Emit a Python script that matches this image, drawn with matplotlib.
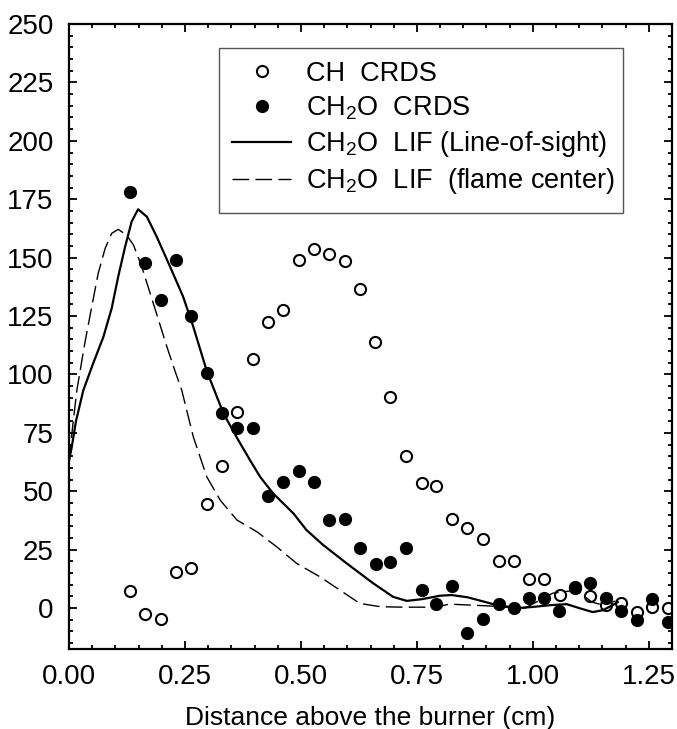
import matplotlib
matplotlib.use("Agg")
import matplotlib.pyplot as plt
from matplotlib.patches import Rectangle
from matplotlib.ticker import MultipleLocator

plt.rcParams["font.family"] = ["Liberation Sans", "DejaVu Sans"]
plt.rcParams["mathtext.default"] = "regular"

# CH CRDS (open circles)
ch_x = [0.131, 0.164, 0.198, 0.230, 0.263, 0.297, 0.330, 0.363, 0.396, 0.428,
        0.462, 0.496, 0.528, 0.561, 0.595, 0.627, 0.659, 0.693, 0.727, 0.760,
        0.792, 0.826, 0.858, 0.892, 0.926, 0.959, 0.991, 1.024, 1.058, 1.091,
        1.124, 1.157, 1.191, 1.224, 1.257, 1.291]
ch_y = [7.3, -2.6, -4.7, 15.4, 17.0, 44.5, 61.0, 84.0, 106.5, 122.5,
        127.5, 149.0, 153.5, 151.5, 148.5, 136.5, 113.8, 90.3, 65.0, 53.5,
        52.2, 38.0, 34.2, 29.5, 20.1, 20.1, 12.4, 12.4, 5.6, 9.0,
        5.2, 1.3, 2.3, -1.6, 0.3, 0.0]

# CH2O CRDS (filled circles)
ch2o_x = [0.131, 0.164, 0.198, 0.230, 0.263, 0.297, 0.330, 0.363, 0.396, 0.428,
          0.462, 0.496, 0.528, 0.561, 0.594, 0.627, 0.661, 0.693, 0.727, 0.760,
          0.792, 0.826, 0.859, 0.892, 0.926, 0.959, 0.991, 1.024, 1.057, 1.091,
          1.124, 1.157, 1.191, 1.224, 1.257, 1.291]
ch2o_y = [178.0, 147.6, 131.8, 149.0, 125.0, 100.5, 83.5, 77.0, 77.0, 48.0,
          54.0, 58.6, 54.0, 37.6, 38.0, 25.7, 18.8, 19.7, 25.7, 7.7,
          1.7, 9.4, -10.6, -4.8, 1.7, 0.0, 4.4, 4.4, -1.2, 8.4,
          10.6, 4.4, -1.2, -5.2, 3.8, -6.0]

# CH2O LIF, line-of-sight (solid)
los_x = [0.0, 0.006, 0.015, 0.031, 0.052, 0.074, 0.092, 0.106, 0.121, 0.135,
         0.149, 0.168, 0.189, 0.218, 0.246, 0.268, 0.297, 0.333, 0.365, 0.390,
         0.412, 0.440, 0.484, 0.512, 0.548, 0.599, 0.656, 0.699, 0.728, 0.760,
         0.800, 0.825, 0.860, 0.922, 0.966, 1.000, 1.040, 1.073, 1.100, 1.129,
         1.151, 1.172, 1.183]
los_y = [63.0, 69.0, 80.0, 93.3, 104.7, 116.0, 128.3, 141.8, 154.7, 165.4,
         170.7, 167.5, 159.0, 146.1, 133.3, 120.4, 101.5, 83.3, 71.9, 63.4,
         56.2, 49.1, 40.5, 33.4, 27.0, 19.1, 10.6, 4.8, 3.1, 3.8,
         5.3, 5.6, 4.6, 1.3, 0.0, 0.5, 1.3, 1.7, 0.0, -1.7,
         -0.9, 1.3, 2.6]

# CH2O LIF, flame center (dashed)
fc_x = [0.0, 0.008, 0.017, 0.034, 0.049, 0.063, 0.078, 0.092, 0.106, 0.124,
        0.139, 0.157, 0.175, 0.193, 0.211, 0.229, 0.243, 0.268, 0.297, 0.326,
        0.362, 0.405, 0.448, 0.491, 0.541, 0.584, 0.627, 0.671, 0.720, 0.790,
        0.820, 0.920, 0.960, 0.983, 1.043, 1.095, 1.127, 1.151, 1.177]
fc_y = [63.0, 78.0, 93.3, 113.3, 129.0, 143.3, 154.0, 160.4, 162.1, 159.7,
        155.4, 146.1, 134.7, 123.3, 111.9, 101.2, 93.3, 73.3, 56.2, 46.2,
        37.7, 32.7, 26.2, 19.1, 13.4, 7.7, 2.0, 0.6, 0.4, 0.4,
        1.7, 0.8, 0.0, 0.0, 6.4, 7.7, 2.6, 1.3, 3.0]

labels = ["CH  CRDS", "CH$_2$O  CRDS", "CH$_2$O  LIF (Line-of-sight)",
          "CH$_2$O  LIF  (flame center)"]

fig = plt.figure(figsize=(6.77, 7.29), dpi=100)
ax = fig.add_axes([69 / 677, 1 - 649 / 729, 603 / 677, 625 / 729])

h1, = ax.plot(ch_x, ch_y, "o", ms=8, mfc="white", mec="black", mew=1.5, ls="none")
h2, = ax.plot(ch2o_x, ch2o_y, "o", ms=8.5, mfc="black", mec="black", ls="none")
h3, = ax.plot(los_x, los_y, "-", color="black", lw=1.6)
h4, = ax.plot(fc_x, fc_y, color="black", lw=1.0, dashes=(12, 4.5))

ax.set_xlim(0, 1.3)
ax.set_ylim(-17.5, 250)
ax.xaxis.set_major_locator(MultipleLocator(0.25))
ax.xaxis.set_minor_locator(MultipleLocator(0.05))
ax.yaxis.set_major_locator(MultipleLocator(25))
ax.yaxis.set_minor_locator(MultipleLocator(5))
ax.xaxis.set_major_formatter(plt.FormatStrFormatter("%.2f"))
ax.tick_params(which="both", direction="in", top=True, right=True, width=1.3,
               labelsize=20)
ax.tick_params(which="major", length=5.5)
ax.tick_params(which="minor", length=3)
ax.tick_params(axis="x", which="major", pad=11)
ax.tick_params(axis="y", which="major", pad=11)
for sp in ax.spines.values():
    sp.set_linewidth(1.6)

ax.set_xlabel("Distance above the burner (cm)", fontsize=19, labelpad=11)

leg = ax.legend([h1, h2, h3, h4], labels, loc="upper left",
                bbox_to_anchor=(0.270, 0.941), borderaxespad=0, borderpad=0,
                frameon=False, fontsize=19.5, handlelength=2.2, handletextpad=0.55,
                labelspacing=0.27)
ax.add_patch(Rectangle(((219 - 69) / 603, (649 - 213) / 625), (623 - 219) / 603,
                       (213 - 48) / 625, transform=ax.transAxes, fill=False,
                       edgecolor="#555555", lw=1.0, zorder=5))

fig.savefig("out.png", dpi=100)
